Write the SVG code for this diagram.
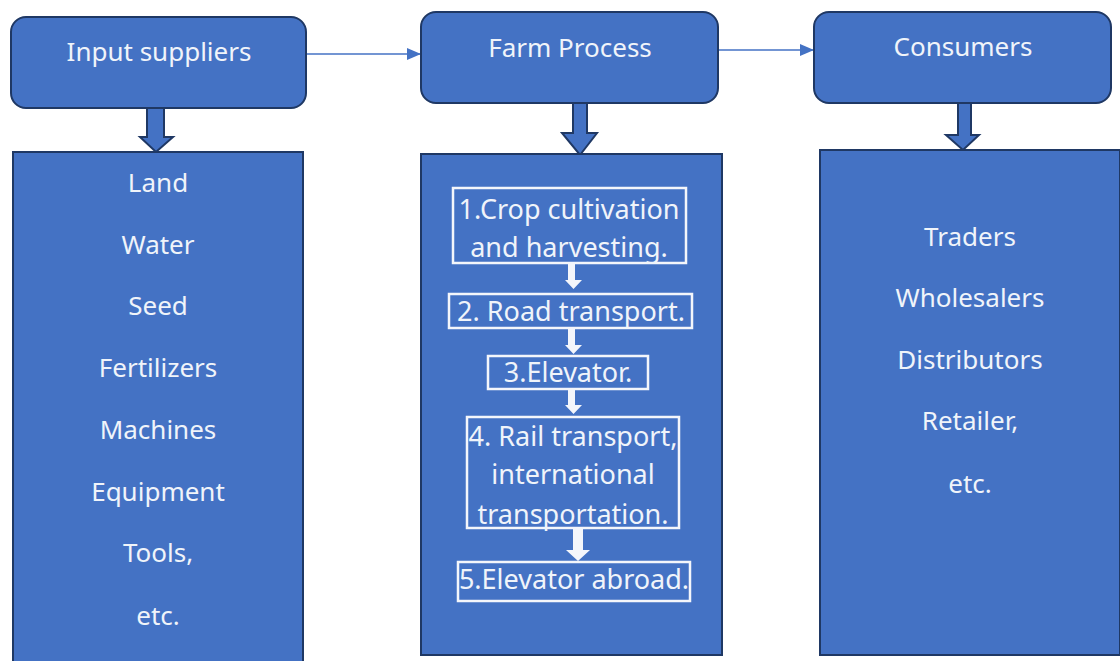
<svg xmlns="http://www.w3.org/2000/svg" width="1120" height="661" viewBox="0 0 1120 661">
  <style>
    .head { fill: #4472C4; stroke: #1F3864; stroke-width: 2; }
    .panel { fill: #4472C4; stroke: #1F3864; stroke-width: 2; }
    .block { fill: #4472C4; stroke: #1F3864; stroke-width: 2; stroke-linejoin: miter; }
    .step { fill: none; stroke: #F4F6FB; stroke-width: 2.5; }
    .flow { fill: #F4F6FB; }
    .link { stroke: #4472C4; stroke-width: 1.5; fill: none; }
    text { font-family: "Noto Sans", "Open Sans", sans-serif; font-size: 26px; fill: #F0F4FA; text-anchor: middle; }
    .s { font-size: 27px; }
  </style>
  <defs>
    <marker id="tri" markerWidth="14" markerHeight="12" refX="13" refY="6" orient="auto" markerUnits="userSpaceOnUse">
      <path d="M0,0 L14,6 L0,12 Z" fill="#4472C4"/>
    </marker>
  </defs>
  <rect width="1120" height="661" fill="#FFFFFF"/>

  <!-- connectors -->
  <g id="connectors">
    <line class="link" x1="307" y1="54" x2="420" y2="54" marker-end="url(#tri)"/>
    <line class="link" x1="719" y1="50" x2="813" y2="50" marker-end="url(#tri)"/>
    <path class="block" d="M147,108 H164 V137 H173 L156,152 L140,137 H147 Z"/>
    <path class="block" d="M573,103 H587 V133 H597 L580,155 L562,133 H573 Z"/>
    <path class="block" d="M958,103 H971 V135 H979 L963,150 L946,135 H958 Z"/>
  </g>

  <!-- top row -->
  <g id="input-suppliers">
    <rect class="head" x="11" y="17" width="295" height="91" rx="15"/>
    <text x="159" y="61">Input suppliers</text>
  </g>
  <g id="farm-process">
    <rect class="head" x="421" y="12" width="297" height="91" rx="15"/>
    <text x="570" y="57">Farm Process</text>
  </g>
  <g id="consumers">
    <rect class="head" x="814" y="12" width="297" height="91" rx="15"/>
    <text x="963" y="56">Consumers</text>
  </g>

  <!-- supplier list -->
  <g id="inputs-list">
    <rect class="panel" x="13" y="152" width="290" height="515"/>
    <text x="158" y="192">Land</text>
    <text x="158" y="254">Water</text>
    <text x="158" y="315">Seed</text>
    <text x="158" y="377">Fertilizers</text>
    <text x="158" y="439">Machines</text>
    <text x="158" y="501">Equipment</text>
    <text x="158" y="562">Tools,</text>
    <text x="158" y="625">etc.</text>
  </g>

  <!-- farm process steps -->
  <g id="process-steps">
    <rect class="panel" x="421" y="154" width="301" height="501"/>
    <g id="step-1">
      <rect class="step" x="453" y="188" width="233" height="75"/>
      <text class="s" x="569" y="219">1.Crop cultivation</text>
      <text class="s" x="569" y="257">and harvesting.</text>
    </g>
    <path class="flow" d="M568,263 H575 V280 H582 L573.5,289 L565,280 H568 Z"/>
    <g id="step-2">
      <rect class="step" x="449" y="294" width="243" height="34"/>
      <text class="s" x="571" y="321">2. Road transport.</text>
    </g>
    <path class="flow" d="M568,328 H575 V345 H582 L573.5,354 L565,345 H568 Z"/>
    <g id="step-3">
      <rect class="step" x="488" y="356" width="160" height="33"/>
      <text class="s" x="568" y="382">3.Elevator.</text>
    </g>
    <path class="flow" d="M568,389 H575 V405 H582 L573.5,414 L565,405 H568 Z"/>
    <g id="step-4">
      <rect class="step" x="467" y="417" width="212" height="111"/>
      <text class="s" x="573" y="446">4. Rail transport,</text>
      <text class="s" x="573" y="484">international</text>
      <text class="s" x="573" y="524">transportation.</text>
    </g>
    <path class="flow" d="M573,528 H583 V550 H590 L578,561 L566,550 H573 Z"/>
    <g id="step-5">
      <rect class="step" x="458" y="562" width="232" height="39"/>
      <text class="s" x="574" y="589">5.Elevator abroad.</text>
    </g>
  </g>

  <!-- consumer list -->
  <g id="consumers-list">
    <rect class="panel" x="820" y="150" width="300" height="505"/>
    <text x="970" y="246">Traders</text>
    <text x="970" y="307">Wholesalers</text>
    <text x="970" y="369">Distributors</text>
    <text x="970" y="430">Retailer,</text>
    <text x="970" y="493">etc.</text>
  </g>
</svg>
